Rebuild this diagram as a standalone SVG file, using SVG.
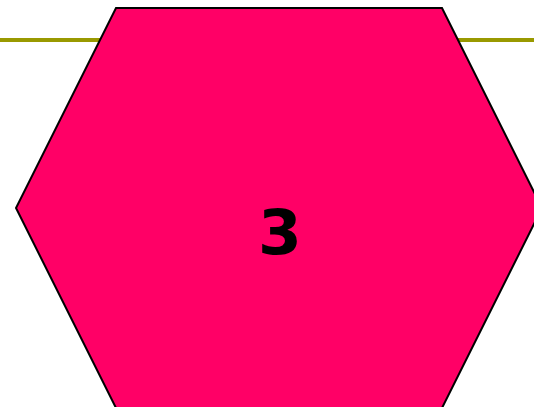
<svg xmlns="http://www.w3.org/2000/svg" width="534" height="407" viewBox="0 0 534 407">
<style>
.edge{stroke:#999900;stroke-width:4;fill:none}
.hex{fill:#FF0066;stroke:#000;stroke-width:2}
.lbl{font-family:"DejaVu Sans",sans-serif;font-weight:bold;font-size:63px;fill:#000;text-anchor:middle}
</style>
<rect width="534" height="407" fill="#fff"/>
<g id="connectors">
<line class="edge" x1="0" y1="40" x2="534" y2="40"/>
</g>
<g id="node3">
<polygon class="hex" points="116,8 442,8 542,208 442,408 116,408 16,208"/>
<text class="lbl" x="280" y="254">3</text>
</g>
</svg>
